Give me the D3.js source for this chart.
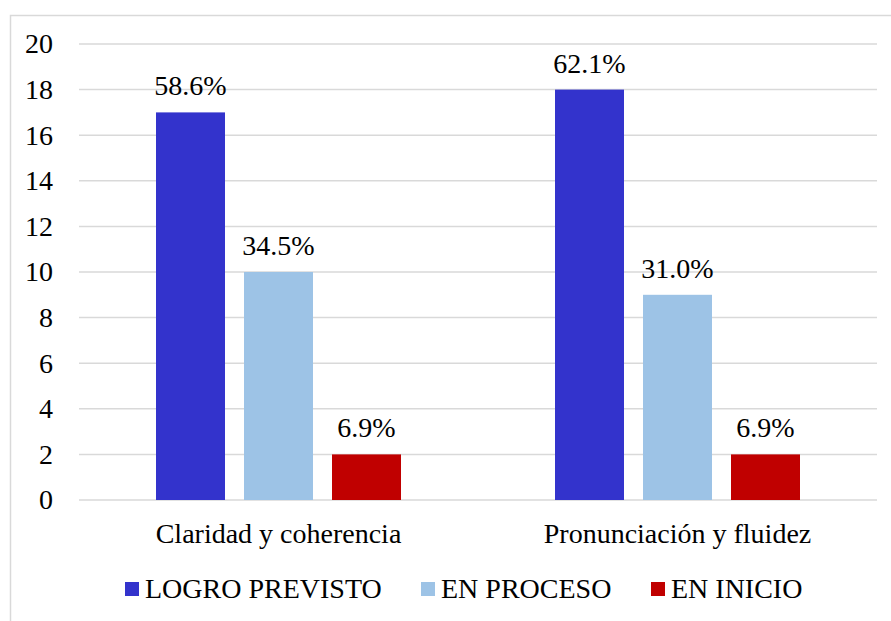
<!DOCTYPE html>
<html>
<head>
<meta charset="utf-8">
<script src="https://cdn.jsdelivr.net/npm/d3@7"></script>
<style>
  html, body { margin: 0; padding: 0; background: #fff; }
</style>
</head>
<body>
<div id="chart"></div>
<script>
// Datos del gráfico
const categories = ["Claridad y coherencia", "Pronunciación y fluidez"];
const seriesNames = ["LOGRO PREVISTO", "EN PROCESO", "EN INICIO"];
const logroPrevisto = [17, 18];
const enProceso = [10, 9];
const enInicio = [2, 2];
const percentLabels = [
    ["58.6%", "34.5%", "6.9%"],
    ["62.1%", "31.0%", "6.9%"]
];
const yTicks = [0, 2, 4, 6, 8, 10, 12, 14, 16, 18, 20];

const colors = ["#3333cc", "#9dc3e6", "#c00000"];

const width = 891, height = 621;
const font = "Liberation Serif";
const fontSize = 28;

const svg = d3.select("#chart")
    .append("svg")
    .attr("width", width)
    .attr("height", height);

// Marco del gráfico
svg.append("rect")
    .attr("x", 10.5)
    .attr("y", 15.5)
    .attr("width", 900)
    .attr("height", 700)
    .attr("fill", "none")
    .attr("stroke", "#d9d9d9")
    .attr("stroke-width", 1.5);

const plot = { left: 79, right: 877, top: 44, bottom: 500 };

const y = d3.scaleLinear().domain([0, 20]).range([plot.bottom, plot.top]);

const x0 = d3.scaleBand()
    .domain(categories)
    .range([plot.left, plot.right])
    .padding(0);

const x1 = d3.scaleBand()
    .domain(seriesNames)
    .range([0, x0.bandwidth()])
    .paddingInner(0.216)
    .paddingOuter(0.875);

// Líneas de cuadrícula
svg.append("g")
    .selectAll("line")
    .data(yTicks)
    .join("line")
    .attr("x1", plot.left)
    .attr("x2", plot.right)
    .attr("y1", d => y(d))
    .attr("y2", d => y(d))
    .attr("stroke", "#d9d9d9")
    .attr("stroke-width", 1.5);

// Eje Y
const yAxis = svg.append("g")
    .attr("transform", `translate(${plot.left},0)`)
    .call(d3.axisLeft(y).tickValues(yTicks).tickSize(0).tickPadding(26));
yAxis.select(".domain").remove();
yAxis.selectAll("text")
    .attr("font-family", font)
    .attr("font-size", fontSize)
    .attr("fill", "#000");

// Barras
const rows = categories.map((c, i) => ({
    category: c,
    values: [logroPrevisto[i], enProceso[i], enInicio[i]],
    labels: percentLabels[i]
}));

const groups = svg.append("g")
    .selectAll("g")
    .data(rows)
    .join("g")
    .attr("transform", d => `translate(${x0(d.category)},0)`);

groups.selectAll("rect")
    .data(d => d.values.map((v, j) => ({ name: seriesNames[j], value: v, label: d.labels[j], idx: j })))
    .join("rect")
    .attr("x", d => x1(d.name))
    .attr("y", d => y(d.value))
    .attr("width", x1.bandwidth())
    .attr("height", d => y(0) - y(d.value))
    .attr("fill", d => colors[d.idx]);

groups.selectAll("text.val")
    .data(d => d.values.map((v, j) => ({ name: seriesNames[j], value: v, label: d.labels[j] })))
    .join("text")
    .attr("class", "val")
    .attr("x", d => x1(d.name) + x1.bandwidth() / 2)
    .attr("y", d => y(d.value) - 17)
    .attr("text-anchor", "middle")
    .attr("font-family", font)
    .attr("font-size", fontSize)
    .attr("fill", "#000")
    .text(d => d.label);

// Eje X (etiquetas de categoría)
const xAxis = svg.append("g")
    .attr("transform", `translate(0,${plot.bottom})`)
    .call(d3.axisBottom(x0).tickSize(0));
xAxis.select(".domain").remove();
xAxis.selectAll("text")
    .attr("y", 43)
    .attr("dy", 0)
    .attr("font-family", font)
    .attr("font-size", fontSize)
    .attr("fill", "#000");

// Leyenda
const legendX = [125, 421, 651];
const legend = svg.append("g")
    .selectAll("g")
    .data(seriesNames)
    .join("g")
    .attr("transform", (d, i) => `translate(${legendX[i]},598)`);

legend.append("rect")
    .attr("x", 0)
    .attr("y", -16)
    .attr("width", 14)
    .attr("height", 14)
    .attr("fill", (d, i) => colors[i]);

legend.append("text")
    .attr("x", 20)
    .attr("y", 0)
    .attr("font-family", font)
    .attr("font-size", fontSize)
    .attr("fill", "#000")
    .text(d => d);
</script>
</body>
</html>
